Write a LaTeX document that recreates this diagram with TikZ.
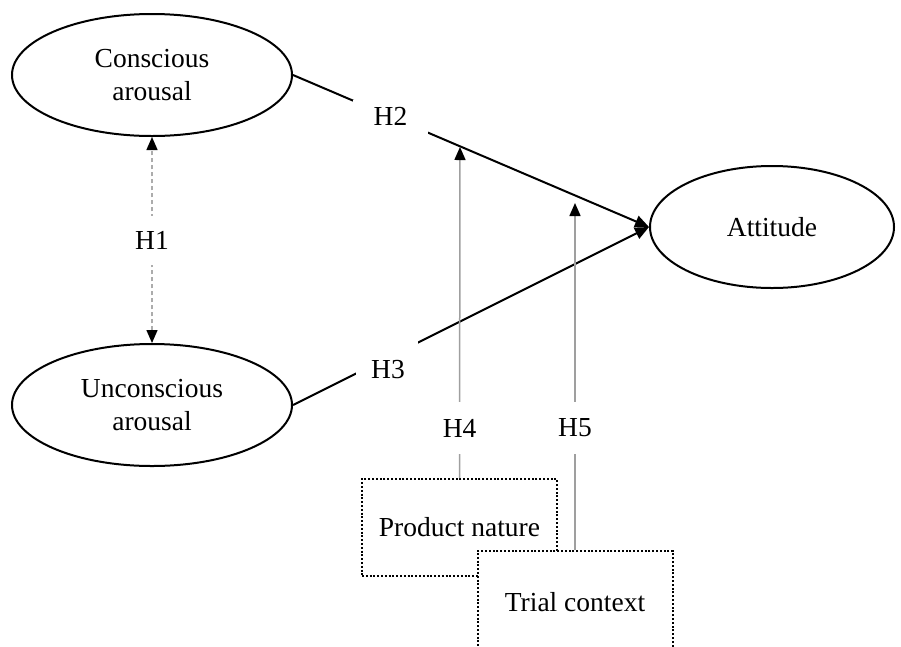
\documentclass[tikz,border=0pt]{standalone}
\usepackage{fontspec}
\setmainfont{Liberation Serif}
\usetikzlibrary{shapes.geometric,arrows.meta}
\begin{document}
\begin{tikzpicture}[x=1pt,y=-1pt,
  font=\fontsize{27.5}{33}\selectfont,
  construct/.style={ellipse,draw,line width=2pt,minimum width=280pt,minimum height=122pt,inner sep=0pt,align=center},
  modbox/.style={draw,line width=2pt,dash pattern=on 2pt off 1.8pt,fill=white,minimum width=195pt,minimum height=97pt,inner sep=0pt},
  mainlink/.style={line width=2pt,-{Triangle[length=14pt,width=12pt]}},
  modlink/.style={gray!75,line width=1.5pt,-{Triangle[length=13pt,width=11pt,color=black]}},
  corrlink/.style={gray!65,line width=1.4pt,dash pattern=on 4pt off 3pt,
    {Triangle[length=13pt,width=11pt,color=black]}-{Triangle[length=13pt,width=11pt,color=black]}},
  labelgap/.style={fill=white,inner sep=0pt,text=black},
]
\useasboundingbox (0,0) rectangle (901,646);
\clip (0,0) rectangle (901,646);

\node[construct] (ca) at (152,75) {Conscious\\arousal};
\node[construct] (ua) at (152,405) {Unconscious\\arousal};
\node[construct,minimum width=244pt] (att) at (772,227) {Attitude};

\node[modbox] (pn) at (459.5,527.5) {Product nature};
\node[modbox,minimum height=102pt] (tc) at (575,602) {Trial context};

\coordinate (h4tip) at (460,147);
\coordinate (h5tip) at (575,203);

\draw[mainlink] (ca.east) -- node[labelgap,minimum width=75pt,minimum height=34pt,pos=0.274] {H2} (att.west);
\draw[mainlink] (ua.east) -- node[labelgap,minimum width=62pt,minimum height=34pt,pos=0.263] {} (att.west);
\node (h3) at (388,370) {H3};

\draw[corrlink] (ua.north) -- node[labelgap,minimum height=49pt] {H1} (ca.south);

\draw[modlink] (pn.north) -- node[labelgap,minimum height=52pt,pos=0.151] {H4} (h4tip);
\draw[modlink] (tc.north) -- node[labelgap,minimum height=52pt,pos=0.353] {H5} (h5tip);
\end{tikzpicture}
\end{document}
